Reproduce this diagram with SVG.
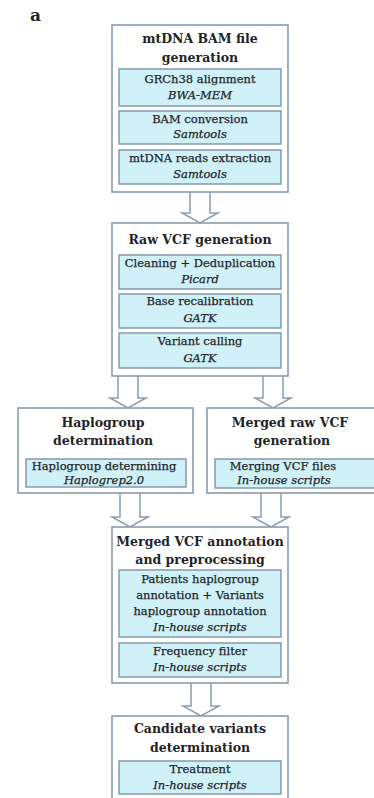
<svg xmlns="http://www.w3.org/2000/svg" width="374" height="798" viewBox="0 0 374 798">
  <style>
    .box { fill: #ffffff; stroke: #8a9cad; stroke-width: 1.6; }
    .step { fill: #cff1f7; stroke: #7f93a6; stroke-width: 1.4; }
    .arrow { fill: #ffffff; stroke: #8a9cad; stroke-width: 1.5; stroke-linejoin: miter; }
    text { font-family: "DejaVu Serif", "Liberation Serif", serif; fill: #1f2429; text-anchor: middle; }
    .title { font-size: 12.5px; font-weight: bold; }
    .txt { font-size: 11.5px; stroke: #1f2429; stroke-width: 0.25; }
    .tool { font-size: 11.5px; font-style: italic; stroke: #1f2429; stroke-width: 0.25; }
    .label { font-size: 17px; font-weight: bold; text-anchor: start; }
  </style>

  <rect width="374" height="798" fill="#ffffff"/>
  <text class="label" x="30" y="21">a</text>

  <!-- hollow block arrows between stages -->
  <g id="connectors">
    <path class="arrow" d="M190 192 V213 H182 L200 223 L218 213 H210 V192"/>
    <path class="arrow" d="M118 376 V398 H110 L128 408 L146 398 H138 V376"/>
    <path class="arrow" d="M263 376 V398 H255 L273 408 L291 398 H283 V376"/>
    <path class="arrow" d="M120 493 V517 H112 L130 527 L148 517 H140 V493"/>
    <path class="arrow" d="M261 493 V517 H253 L271 527 L289 517 H281 V493"/>
    <path class="arrow" d="M191 683 V706 H183 L201 716 L219 706 H211 V683"/>
  </g>

  <g id="bam-generation">
    <rect class="box" x="112" y="25" width="176" height="167"/>
    <text class="title" x="200" y="43">mtDNA BAM file</text>
    <text class="title" x="200" y="62">generation</text>
    <rect class="step" x="119" y="69" width="162" height="37"/>
    <text class="txt" x="200" y="83">GRCh38 alignment</text>
    <text class="tool" x="200" y="99">BWA-MEM</text>
    <rect class="step" x="119" y="111" width="162" height="33"/>
    <text class="txt" x="200" y="123">BAM conversion</text>
    <text class="tool" x="200" y="138">Samtools</text>
    <rect class="step" x="119" y="150" width="162" height="34"/>
    <text class="txt" x="200" y="162">mtDNA reads extraction</text>
    <text class="tool" x="200" y="178">Samtools</text>
  </g>

  <g id="raw-vcf-generation">
    <rect class="box" x="112" y="223" width="176" height="153"/>
    <text class="title" x="200" y="244">Raw VCF generation</text>
    <rect class="step" x="119" y="255" width="162" height="34"/>
    <text class="txt" x="200" y="267">Cleaning + Deduplication</text>
    <text class="tool" x="200" y="283">Picard</text>
    <rect class="step" x="119" y="294" width="162" height="34"/>
    <text class="txt" x="200" y="305">Base recalibration</text>
    <text class="tool" x="200" y="322">GATK</text>
    <rect class="step" x="119" y="333" width="162" height="35"/>
    <text class="txt" x="200" y="345">Variant calling</text>
    <text class="tool" x="200" y="362">GATK</text>
  </g>

  <g id="haplogroup-determination">
    <rect class="box" x="18" y="408" width="175" height="85"/>
    <text class="title" x="103" y="427">Haplogroup</text>
    <text class="title" x="103" y="445">determination</text>
    <rect class="step" x="26" y="459" width="160" height="28"/>
    <text class="txt" x="104" y="470">Haplogroup determining</text>
    <text class="tool" x="104" y="484">Haplogrep2.0</text>
  </g>

  <g id="merged-raw-vcf">
    <rect class="box" x="207" y="408" width="176" height="85"/>
    <text class="title" x="290" y="427">Merged raw VCF</text>
    <text class="title" x="292" y="445">generation</text>
    <rect class="step" x="215" y="459" width="165" height="29"/>
    <text class="txt" x="283" y="470">Merging VCF files</text>
    <text class="tool" x="284" y="484">In-house scripts</text>
  </g>

  <g id="annotation-preprocessing">
    <rect class="box" x="112" y="527" width="176" height="156"/>
    <text class="title" x="200" y="546">Merged VCF annotation</text>
    <text class="title" x="200" y="564">and preprocessing</text>
    <rect class="step" x="119" y="570" width="162" height="67"/>
    <text class="txt" x="200" y="583">Patients  haplogroup</text>
    <text class="txt" x="200" y="599">annotation + Variants</text>
    <text class="txt" x="200" y="615">haplogroup annotation</text>
    <text class="tool" x="200" y="631">In-house scripts</text>
    <rect class="step" x="119" y="643" width="162" height="34"/>
    <text class="txt" x="200" y="655">Frequency filter</text>
    <text class="tool" x="200" y="671">In-house scripts</text>
  </g>

  <g id="candidate-variants">
    <rect class="box" x="112" y="716" width="176" height="90"/>
    <text class="title" x="200" y="733">Candidate variants</text>
    <text class="title" x="200" y="752">determination</text>
    <rect class="step" x="119" y="761" width="162" height="33"/>
    <text class="txt" x="200" y="773">Treatment</text>
    <text class="tool" x="200" y="789">In-house scripts</text>
  </g>
</svg>
